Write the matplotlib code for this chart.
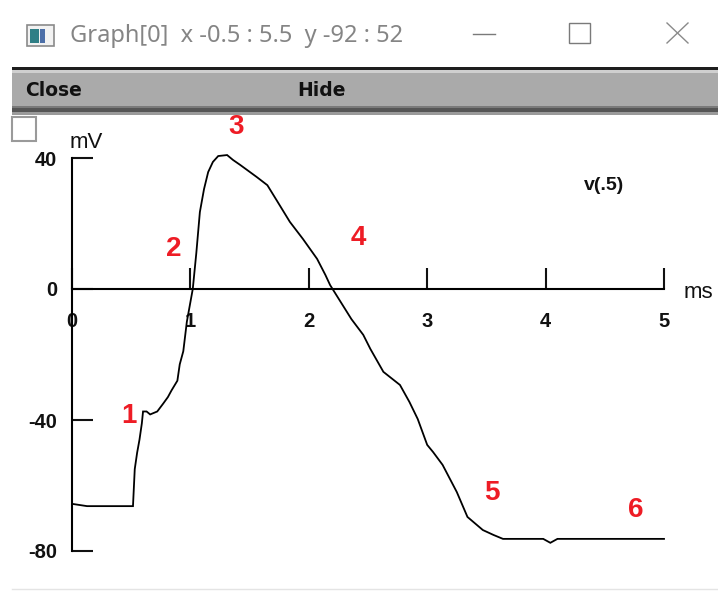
import matplotlib
matplotlib.use("Agg")
import matplotlib.pyplot as plt
from matplotlib.patches import Rectangle

# membrane potential v(.5)
t_ms = [0.0, 0.127, 0.515, 0.53, 0.55, 0.57, 0.59, 0.60, 0.63, 0.66, 0.72, 0.77,
        0.81, 0.84, 0.89, 0.91, 0.94, 0.97, 1.02, 1.05, 1.08, 1.115, 1.15, 1.19,
        1.235, 1.31, 1.36, 1.42, 1.56, 1.65, 1.73, 1.84, 1.95, 2.07, 2.14, 2.18,
        2.36, 2.46, 2.52, 2.63, 2.77, 2.85, 2.92, 3.0, 3.05, 3.13, 3.25, 3.34,
        3.47, 3.56, 3.64, 3.98, 4.04, 4.10, 5.0]
v_mv = [-65.6, -66.3, -66.3, -55.0, -50.0, -46.0, -41.0, -37.4, -37.4, -38.3,
        -37.4, -35.0, -33.0, -31.0, -28.0, -23.0, -19.0, -10.0, 0.0, 11.0, 23.5,
        30.5, 35.7, 38.8, 40.6, 40.9, 39.4, 37.9, 34.2, 31.7, 27.0, 20.5, 15.3,
        9.2, 4.3, 1.2, -9.2, -14.0, -18.3, -25.3, -29.3, -34.5, -39.7, -47.6,
        -49.8, -53.7, -62.0, -69.6, -73.6, -75.1, -76.3, -76.3, -77.5, -76.3,
        -76.3]

x_ticks = [0, 1, 2, 3, 4, 5]
y_ticks = [-80, -40, 0, 40]
x_range = (-0.5, 5.5)
y_range = (-92, 52)

# red phase numbers
phase_labels = ["1", "2", "3", "4", "5", "6"]
phase_t = [0.48, 0.86, 1.39, 2.42, 3.55, 4.76]
phase_v = [-38.8, 12.2, 49.5, 15.6, -62.3, -67.4]

W, H = 718, 591
fig = plt.figure(figsize=(W / 100, H / 100), dpi=100)
plt.rcParams["font.family"] = ["Liberation Sans", "DejaVu Sans"]

# window chrome, drawn in pixel coordinates
bg = fig.add_axes([0, 0, 1, 1])
bg.set_xlim(0, W)
bg.set_ylim(H, 0)
bg.axis("off")

# title bar
bg.add_patch(Rectangle((27, 25), 27, 21, facecolor="#f2f2f2", edgecolor="#8a8a8a", lw=1.2))
bg.add_patch(Rectangle((30, 29), 9, 14, facecolor="#2f7f86", edgecolor="none"))
bg.add_patch(Rectangle((40, 29), 5, 14, facecolor="#4c6fa8", edgecolor="none"))
bg.text(70, 36, "Graph[0]  x -0.5 : 5.5  y -92 : 52", fontsize=17, color="#858585",
        family="Noto Sans", va="center", ha="left")
bg.plot([473, 495], [34, 34], color="#7a7a7a", lw=1.0)
bg.add_patch(Rectangle((569, 23), 21, 20, facecolor="none", edgecolor="#7a7a7a", lw=1.0))
bg.plot([667, 688], [23, 43], color="#8a8a8a", lw=1.0)
bg.plot([667, 688], [43, 23], color="#8a8a8a", lw=1.0)

# menu bar
bg.add_patch(Rectangle((12, 67), W - 12, 3, facecolor="#1e1e1e", edgecolor="none"))
bg.add_patch(Rectangle((12, 70), W - 12, 3, facecolor="#cfcfcf", edgecolor="none"))
bg.add_patch(Rectangle((12, 73), W - 12, 33, facecolor="#aaaaaa", edgecolor="none"))
bg.add_patch(Rectangle((12, 106), W - 12, 2, facecolor="#7a7a7a", edgecolor="none"))
bg.add_patch(Rectangle((12, 108), W - 12, 4, facecolor="#555555", edgecolor="none"))
bg.add_patch(Rectangle((12, 112), W - 12, 3, facecolor="#9a9a9a", edgecolor="none"))
bg.text(25, 90, "Close", fontsize=13.5, fontweight="bold", family="DejaVu Sans",
        color="#111111", va="center", ha="left")
bg.text(297, 90, "Hide", fontsize=13.5, fontweight="bold", family="DejaVu Sans",
        color="#111111", va="center", ha="left")

# checkbox and bottom rule
bg.add_patch(Rectangle((12, 117), 24, 24, facecolor="white", edgecolor="#9a9a9a", lw=1.5))
bg.plot([12, W], [589, 589], color="#e4e4e4", lw=1.0)

# units and legend
bg.text(86, 142, "mV", fontsize=16, color="#111111", va="center", ha="center")
bg.text(698, 292, "ms", fontsize=16, color="#111111", va="center", ha="center")
bg.text(604, 185, "v(.5)", fontsize=14, fontweight="bold", color="#111111",
        va="center", ha="center")

# data axes
px_per_x = 118.4
x0_px = 72 - 0.5 * px_per_x
ax = fig.add_axes([x0_px / W, (H - 590.3) / H, 6 * px_per_x / W, 471.6 / H])
ax.patch.set_alpha(0)
ax.set_xlim(*x_range)
ax.set_ylim(*y_range)

ax.plot(t_ms, v_mv, color="black", lw=1.3, solid_joinstyle="miter")

for lab, tx, vy in zip(phase_labels, phase_t, phase_v):
    ax.text(tx, vy, lab, color="#ee1c25", fontsize=20, fontweight="bold",
            ha="center", va="center")

for side in ["top", "right"]:
    ax.spines[side].set_visible(False)
ax.spines["left"].set_position(("data", 0))
ax.spines["bottom"].set_position(("data", 0))
ax.spines["left"].set_bounds(y_ticks[0], y_ticks[-1])
ax.spines["bottom"].set_bounds(x_ticks[0], x_ticks[-1])
for side in ["left", "bottom"]:
    ax.spines[side].set_linewidth(1.5)

ax.set_xticks(x_ticks)
ax.set_yticks(y_ticks)
ax.set_xticklabels([str(x) for x in x_ticks])
ax.set_yticklabels([str(y) for y in y_ticks])
ax.tick_params(axis="x", direction="in", length=15, width=1.5, pad=16.5,
               labelsize=14.5, colors="#111111")
ax.tick_params(axis="y", direction="in", length=15, width=1.5, pad=10.5,
               labelsize=14.5, colors="#111111")
for lab in ax.get_xticklabels() + ax.get_yticklabels():
    lab.set_fontweight("bold")

fig.savefig("out.png", dpi=100)
